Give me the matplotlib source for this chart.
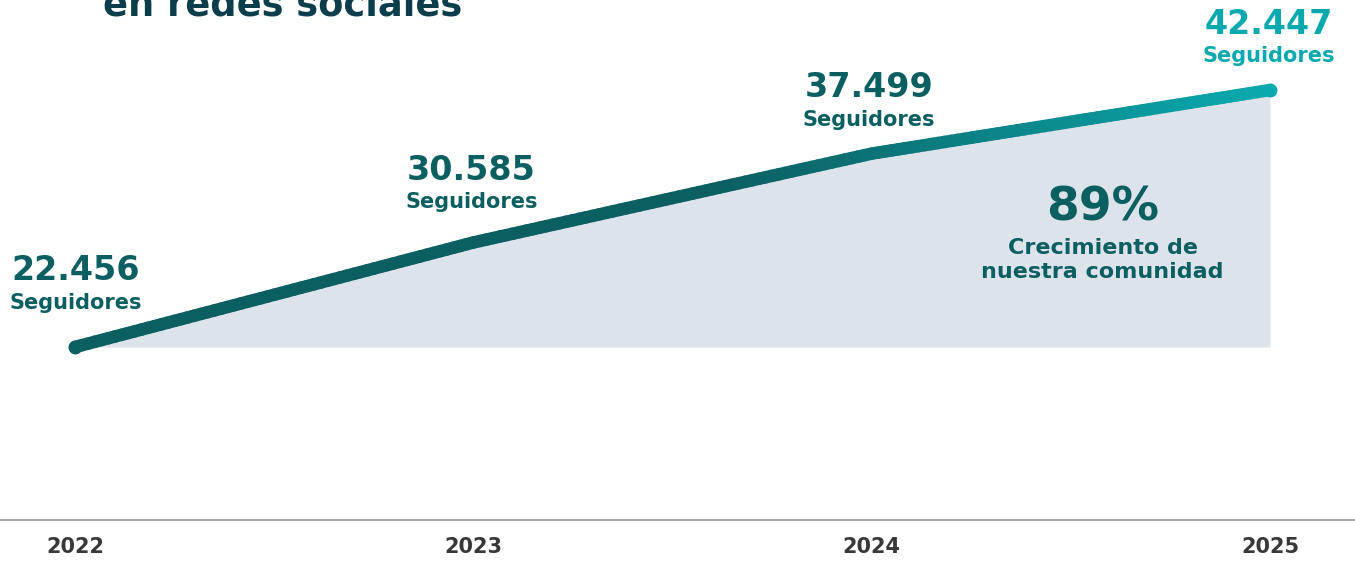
import numpy as np
import matplotlib
matplotlib.use("Agg")
import matplotlib.pyplot as plt
from matplotlib.collections import LineCollection
from matplotlib.colors import LinearSegmentedColormap

# data
years = [2022, 2023, 2024, 2025]
followers = [22456, 30585, 37499, 42447]
number_labels = ["22.456", "30.585", "37.499", "42.447"]
sub_label = "Seguidores"
growth_label = "89%"
growth_text = "Crecimiento de\nnuestra comunidad"
title = "en redes sociales"

dark = "#0c5f61"
cyan = "#0aa9ae"
fill_col = "#dde3ea"
font = "DejaVu Sans"

W, H = 1355, 561
fig = plt.figure(figsize=(W / 100, H / 100), dpi=100)
ax = fig.add_axes([0, (H - 520) / H, 1, 520 / H])

px_per_year = (1270 - 75) / 3
ax.set_xlim(2022 - 75 / px_per_year, 2025 + (W - 1270) / px_per_year)
px_per_unit = (347 - 90) / (followers[-1] - followers[0])
ax.set_ylim(followers[0] - (520 - 347) / px_per_unit, followers[0] + 347 / px_per_unit)

# area under the line
ax.fill_between(years, followers, followers[0], color=fill_col, lw=0, zorder=1)

# gradient line (subdivided only for colouring)
xs, ys = [], []
for i in range(len(years) - 1):
    t = np.linspace(0, 1, 60, endpoint=False)
    xs.extend(years[i] + t * (years[i + 1] - years[i]))
    ys.extend(followers[i] + t * (followers[i + 1] - followers[i]))
xs.append(years[-1]); ys.append(followers[-1])
pts = np.column_stack([xs, ys]).reshape(-1, 1, 2)
segs = np.concatenate([pts[:-1], pts[1:]], axis=1)
cmap = LinearSegmentedColormap.from_list("g", [(0, dark), (0.55, dark), (1, cyan)])
lc = LineCollection(segs, cmap=cmap, linewidths=9, capstyle="round", zorder=3)
lc.set_array(np.linspace(0, 1, len(segs)))
ax.add_collection(lc)
ax.plot(years[0], followers[0], "o", color=dark, ms=9, zorder=4)
ax.plot(years[-1], followers[-1], "o", color=cyan, ms=9, zorder=4)

# labels
offsets = [(1, 76), (-2, 72), (-3, 66), (-1, 66)]
colors = [dark, dark, dark, cyan]
for x, y, lab, off, c in zip(years, followers, number_labels, offsets, colors):
    ax.annotate(lab, (x, y), xytext=(off[0], off[1]), textcoords="offset pixels",
                ha="center", va="center", fontsize=24, fontweight="bold",
                color=c, family=font, zorder=5)
    ax.annotate(sub_label, (x, y), xytext=(off[0], off[1] - 32), textcoords="offset pixels",
                ha="center", va="center", fontsize=15, fontweight="bold",
                color=c, family=font, zorder=5)

ax.text(2024 + (1103 - 872) / px_per_year, followers[0] + (347 - 208) / px_per_unit,
        growth_label, ha="center", va="center", fontsize=34, fontweight="bold",
        color=dark, family=font)
ax.text(2024 + (1103 - 872) / px_per_year, followers[0] + (347 - 260) / px_per_unit,
        growth_text, ha="center", va="center", fontsize=16, fontweight="bold",
        color=dark, family=font, linespacing=1.25)

fig.text(103 / W, 1 - 16 / H, title, ha="left", va="baseline", fontsize=26.5,
         fontweight="bold", color="#0b3e4a", family=font)

# axis
for s in ["top", "left", "right"]:
    ax.spines[s].set_visible(False)
ax.spines["bottom"].set_color("#a9a9a9")
ax.spines["bottom"].set_linewidth(1.5)
ax.set_yticks([])
ax.set_xticks(years)
ax.set_xticklabels([str(y) for y in years], fontsize=15, fontweight="bold",
                   color="#383838", family=font)
ax.tick_params(axis="x", length=0, pad=12)

fig.savefig("out.png", dpi=100)
